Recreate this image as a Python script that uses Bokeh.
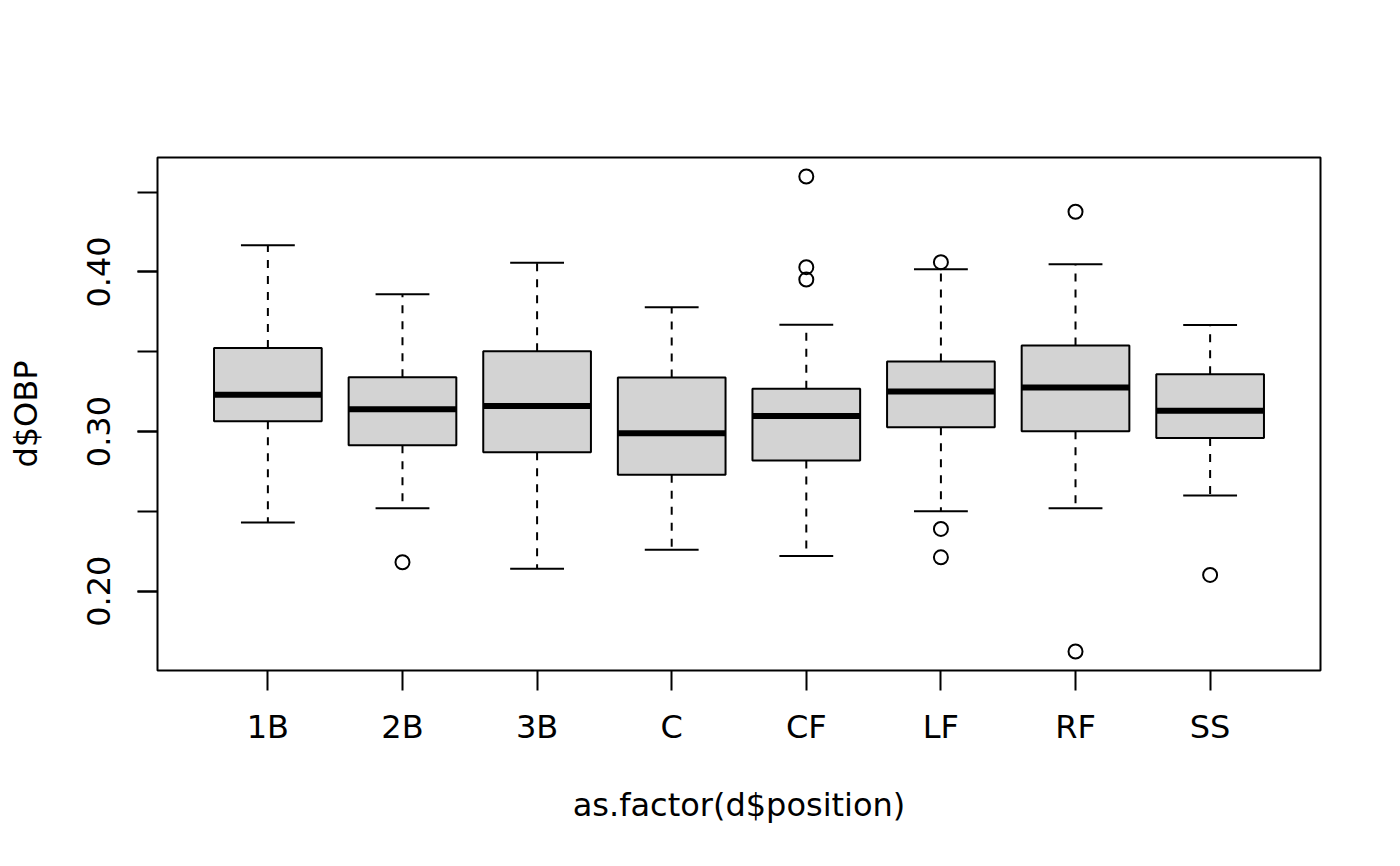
from bokeh.plotting import figure
from bokeh.models import Range1d, FixedTicker, PrintfTickFormatter, ColumnDataSource
from bokeh.embed import file_html
from bokeh.resources import INLINE
import numpy as np

# ---- data ----
categories = ["1B", "2B", "3B", "C", "CF", "LF", "RF", "SS"]
lower_whisker = [0.243, 0.252, 0.214, 0.226, 0.222, 0.250, 0.252, 0.260]
q1 = [0.3065, 0.2914, 0.287, 0.273, 0.2818, 0.3027, 0.3002, 0.296]
median = [0.323, 0.314, 0.316, 0.299, 0.3098, 0.3251, 0.3276, 0.313]
q3 = [0.3524, 0.334, 0.3503, 0.3338, 0.3268, 0.3439, 0.3539, 0.3359]
upper_whisker = [0.4167, 0.386, 0.4057, 0.3779, 0.3669, 0.4017, 0.4048, 0.3668]
outlier_cat = ["2B", "CF", "CF", "CF", "LF", "LF", "LF", "RF", "RF", "SS"]
outlier_val = [0.2181, 0.4598, 0.403, 0.3952, 0.4061, 0.239, 0.2212, 0.4377, 0.1622, 0.2102]
y_ticks = [0.20, 0.30, 0.40]
y_minor_ticks = [0.20, 0.25, 0.30, 0.35, 0.40, 0.45]

FONT = "DejaVu Sans"
FS = "32px"

pos = {c: i + 1 for i, c in enumerate(categories)}
xs = np.array([pos[c] for c in categories], dtype=float)
ox = np.array([pos[c] for c in outlier_cat], dtype=float)

n = len(categories)
all_vals = lower_whisker + upper_whisker + outlier_val
lo, hi = min(all_vals), max(all_vals)
pad = 0.04 * (hi - lo)
xpad = 0.04 * n

p = figure(width=1384, height=850, output_backend="svg", toolbar_location=None,
           x_range=Range1d(0.5 - xpad, n + 0.5 + xpad),
           y_range=Range1d(lo - pad, hi + pad),
           min_border_left=157, min_border_top=157, min_border_right=64, min_border_bottom=180)

p.xgrid.visible = False
p.ygrid.visible = False
p.outline_line_color = "black"
p.outline_line_width = 2
p.background_fill_color = "white"
p.border_fill_color = "white"

src = ColumnDataSource(dict(x=xs, x0=xs - 0.2, x1=xs + 0.2, xl=xs - 0.4, xr=xs + 0.4,
                            lw=lower_whisker, q1=q1, med=median, q3=q3, uw=upper_whisker))

# whiskers (dashed)
p.segment(x0="x", y0="q3", x1="x", y1="uw", source=src, line_color="black",
          line_width=2, line_dash="8 8")
p.segment(x0="x", y0="q1", x1="x", y1="lw", source=src, line_color="black",
          line_width=2, line_dash="8 8")
# staples
p.segment(x0="x0", y0="uw", x1="x1", y1="uw", source=src, line_color="black", line_width=2)
p.segment(x0="x0", y0="lw", x1="x1", y1="lw", source=src, line_color="black", line_width=2)
# boxes
p.vbar(x="x", width=0.8, bottom="q1", top="q3", source=src, fill_color="#D3D3D3",
       line_color="black", line_width=2)
# medians
p.segment(x0="xl", y0="med", x1="xr", y1="med", source=src, line_color="black",
          line_width=6, line_cap="butt")
# outliers
p.scatter(x=ox, y=outlier_val, marker="circle", size=14, fill_color=None,
          line_color="black", line_width=2)

# x axis
xa = p.xaxis[0]
xa.ticker = FixedTicker(ticks=list(xs))
xa.major_label_overrides = {float(v): c for v, c in zip(xs, categories)}
xa.axis_line_color = None
xa.major_tick_in = 0
xa.major_tick_out = 20
xa.major_tick_line_width = 2
xa.minor_tick_line_color = None
xa.major_label_text_font = FONT
xa.major_label_text_font_size = FS
xa.major_label_text_color = "black"
xa.major_label_standoff = 17
xa.axis_label = "as.factor(d$position)"
xa.axis_label_text_font = FONT
xa.axis_label_text_font_size = FS
xa.axis_label_text_font_style = "normal"
xa.axis_label_text_color = "black"
xa.axis_label_standoff = 37

# y axis
ya = p.yaxis[0]
ya.ticker = FixedTicker(ticks=y_ticks, minor_ticks=y_minor_ticks)
ya.formatter = PrintfTickFormatter(format="%.2f")
ya.axis_line_color = None
ya.major_tick_in = 0
ya.major_tick_out = 20
ya.major_tick_line_width = 2
ya.minor_tick_in = 0
ya.minor_tick_out = 20
ya.minor_tick_line_width = 2
ya.minor_tick_line_color = "black"
ya.major_label_orientation = "vertical"
ya.major_label_text_font = FONT
ya.major_label_text_font_size = FS
ya.major_label_text_color = "black"
ya.major_label_standoff = 27
ya.axis_label = "d$OBP"
ya.axis_label_text_font = FONT
ya.axis_label_text_font_size = FS
ya.axis_label_text_font_style = "normal"
ya.axis_label_text_color = "black"
ya.axis_label_standoff = 40

open("out.html", "w").write(file_html(p, INLINE))
